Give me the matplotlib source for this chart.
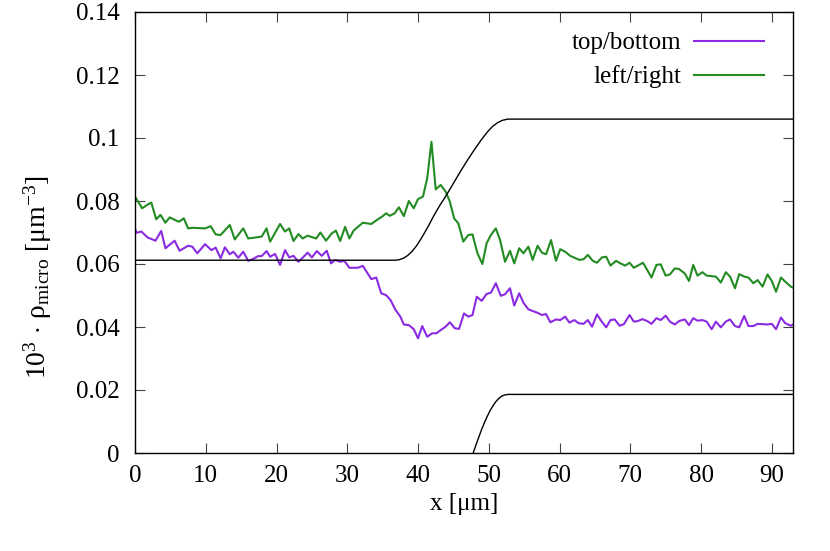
import matplotlib
matplotlib.use("Agg")
import matplotlib.pyplot as plt

plt.rcParams['font.family'] = ['Liberation Serif', 'DejaVu Serif']
plt.rcParams['mathtext.fontset'] = 'custom'
plt.rcParams['mathtext.rm'] = 'Liberation Serif'
plt.rcParams['mathtext.it'] = 'Liberation Serif:italic'

# top/bottom series
tb_x = [0, 0.2, 0.9, 1.8, 2.9, 3.7, 4.3, 5.6, 6.3, 7.5, 8.1, 8.8, 9.9, 10.8, 11.4, 12.1,
        12.7, 13.4, 13.9, 14.6, 15.3, 16.0, 16.7, 17.4, 17.9, 18.6, 19.1, 19.8, 20.5, 21.2,
        21.8, 22.4, 23.1, 23.7, 24.4, 25.0, 25.7, 26.4, 27.1, 27.7, 28.3, 29.0, 29.6, 30.3,
        31.5, 32.2, 33.4, 34.1, 34.8, 35.5, 36.1, 36.8, 37.5, 38.0, 38.7, 39.4, 40.0, 40.6,
        41.3, 42.0, 42.6, 43.2, 43.9, 44.5, 45.2, 45.8, 46.5, 47.1, 47.7, 48.3, 49.0, 49.7,
        50.3, 51.0, 51.7, 52.3, 53.0, 53.6, 54.3, 54.9, 55.6, 56.2, 56.9, 57.5, 58.1, 58.7,
        59.5, 60.1, 60.8, 61.4, 62.1, 62.7, 63.4, 64.0, 64.6, 65.3, 65.9, 66.6, 67.2, 67.8,
        68.5, 69.1, 69.9, 70.5, 71.1, 71.7, 72.4, 73.0, 73.7, 74.3, 75.0, 75.6, 76.3, 76.9,
        77.7, 78.3, 78.9, 79.5, 80.2, 80.8, 81.5, 82.1, 82.8, 83.5, 84.1, 84.8, 85.4, 86.1,
        86.7, 87.4, 88.0, 88.7, 89.4, 90.0, 90.6, 91.3, 91.9, 92.7, 93.0]
tb_y = [0.0713, 0.0699, 0.0703, 0.0684, 0.0674, 0.0705, 0.0650, 0.0674, 0.0642, 0.0658,
        0.0655, 0.0634, 0.0663, 0.0644, 0.0652, 0.0618, 0.0653, 0.0631, 0.0639, 0.0620,
        0.0639, 0.0610, 0.0616, 0.0625, 0.0625, 0.0641, 0.0623, 0.0632, 0.0597, 0.0644,
        0.0621, 0.0626, 0.0607, 0.0620, 0.0636, 0.0621, 0.0641, 0.0626, 0.0642, 0.0602,
        0.0613, 0.0607, 0.0610, 0.0588, 0.0588, 0.0594, 0.0552, 0.0557, 0.0507, 0.0501,
        0.0486, 0.0455, 0.0433, 0.0408, 0.0406, 0.0393, 0.0364, 0.0403, 0.0369, 0.0380,
        0.0380, 0.0390, 0.0401, 0.0415, 0.0396, 0.0394, 0.0443, 0.0433, 0.0438, 0.0496,
        0.0483, 0.0505, 0.0509, 0.0539, 0.0499, 0.0504, 0.0523, 0.0468, 0.0507, 0.0477,
        0.0456, 0.0451, 0.0445, 0.0438, 0.0441, 0.0415, 0.0424, 0.0422, 0.0433, 0.0414,
        0.0422, 0.0412, 0.0410, 0.0422, 0.0401, 0.0440, 0.0419, 0.0399, 0.0422, 0.0424,
        0.0404, 0.0409, 0.0438, 0.0417, 0.0419, 0.0425, 0.0419, 0.0410, 0.0428, 0.0422,
        0.0436, 0.0417, 0.0408, 0.0419, 0.0424, 0.0406, 0.0428, 0.0420, 0.0422, 0.0417,
        0.0393, 0.0417, 0.0399, 0.0417, 0.0424, 0.0403, 0.0399, 0.0435, 0.0403, 0.0403,
        0.0410, 0.0409, 0.0408, 0.0410, 0.0393, 0.0430, 0.0412, 0.0404, 0.0408]

# left/right series
lr_x = [0, 1.0, 2.1, 2.3, 3.0, 3.6, 4.3, 4.9, 6.2, 6.9, 7.5, 8.1, 9.9, 10.7, 11.4, 12.1,
        13.4, 14.1, 15.3, 16.0, 17.9, 18.6, 19.1, 20.5, 21.2, 21.8, 22.4, 23.1, 23.7, 24.4,
        25.6, 26.2, 27.0, 27.8, 28.4, 29.0, 29.7, 30.3, 30.9, 31.4, 32.2, 33.4, 34.2, 34.9,
        35.5, 36.0, 36.7, 37.3, 38.0, 38.7, 39.4, 40.0, 40.7, 41.3, 41.9, 42.5, 43.2, 43.9,
        44.5, 45.1, 45.7, 46.4, 47.1, 47.7, 48.4, 49.1, 49.7, 50.3, 51.0, 51.6, 52.3, 53.0,
        53.6, 54.3, 54.9, 55.6, 56.2, 56.9, 57.5, 58.1, 58.8, 59.5, 60.1, 60.8, 61.5, 62.8,
        63.4, 64.0, 64.7, 65.3, 66.0, 66.6, 67.2, 68.0, 68.6, 69.3, 69.9, 70.5, 71.8, 72.4,
        73.0, 73.7, 74.3, 75.0, 75.6, 76.3, 76.9, 77.7, 78.3, 78.9, 79.5, 80.2, 80.8, 82.1,
        82.8, 83.5, 84.1, 84.8, 85.4, 86.1, 86.7, 87.4, 88.0, 88.7, 89.4, 90.0, 90.6, 91.3,
        91.9, 92.7, 93.0]
lr_y = [0.0814, 0.0777, 0.0793, 0.0795, 0.0742, 0.0756, 0.0731, 0.0748, 0.0734, 0.0745,
        0.0713, 0.0715, 0.0713, 0.0720, 0.0694, 0.0692, 0.0724, 0.0678, 0.0713, 0.0681,
        0.0687, 0.0713, 0.0671, 0.0727, 0.0703, 0.0713, 0.0673, 0.0695, 0.0681, 0.0690,
        0.0681, 0.0700, 0.0674, 0.0697, 0.0706, 0.0673, 0.0718, 0.0681, 0.0706, 0.0716,
        0.0731, 0.0727, 0.0740, 0.0750, 0.0761, 0.0753, 0.0761, 0.0780, 0.0752, 0.0800,
        0.0777, 0.0806, 0.0814, 0.0872, 0.0988, 0.0837, 0.0851, 0.0830, 0.0798, 0.0745,
        0.0729, 0.0671, 0.0692, 0.0694, 0.0634, 0.0600, 0.0666, 0.0692, 0.0713, 0.0676,
        0.0607, 0.0642, 0.0602, 0.0650, 0.0634, 0.0655, 0.0613, 0.0658, 0.0636, 0.0631,
        0.0676, 0.0610, 0.0647, 0.0639, 0.0626, 0.0613, 0.0615, 0.0629, 0.0610, 0.0604,
        0.0621, 0.0623, 0.0595, 0.0610, 0.0602, 0.0595, 0.0604, 0.0588, 0.0604, 0.0581,
        0.0557, 0.0597, 0.0599, 0.0563, 0.0567, 0.0586, 0.0584, 0.0570, 0.0546, 0.0597,
        0.0563, 0.0574, 0.0563, 0.0560, 0.0541, 0.0574, 0.0560, 0.0523, 0.0568, 0.0560,
        0.0557, 0.0539, 0.0549, 0.0528, 0.0567, 0.0546, 0.0512, 0.0557, 0.0544, 0.0528,
        0.0525]

# black outline curves
wall_up_x = [0, 36.8, 37.4, 38.0, 38.6, 39.2, 39.8, 40.4, 41.0, 41.6, 42.2, 43.0, 44.0,
             45.0, 46.0, 47.0, 48.0, 49.0, 49.8, 50.5, 51.2, 51.9, 52.7, 93]
wall_up_y = [0.0612, 0.0612, 0.0614, 0.0619, 0.0628, 0.0641, 0.0658, 0.0679, 0.0702,
             0.0726, 0.0752, 0.0783, 0.0818, 0.0856, 0.0894, 0.0930, 0.0964, 0.0996,
             0.1019, 0.1036, 0.1048, 0.1056, 0.1060, 0.1060]
wall_lo_x = [47.3, 47.8, 48.2, 48.6, 49.0, 49.4, 49.8, 50.2, 50.6, 51.0, 51.4, 51.8,
             52.2, 52.7, 93]
wall_lo_y = [-0.0032, 0.0, 0.0026, 0.0051, 0.0075, 0.0097, 0.0117, 0.0135, 0.0150,
             0.0163, 0.0173, 0.0180, 0.0184, 0.0186, 0.0186]

xticks = [0, 10, 20, 30, 40, 50, 60, 70, 80, 90]
yticks = [0, 0.02, 0.04, 0.06, 0.08, 0.1, 0.12, 0.14]
ylabels = ["0", "0.02", "0.04", "0.06", "0.08", "0.1", "0.12", "0.14"]

fig = plt.figure(figsize=(8.3, 5.51), dpi=100)
ax = fig.add_axes([135/830, 1-453/551, 658/830, 441/551])

ax.plot(tb_x, tb_y, color="#8a2be2", lw=1.5, label="top/bottom")
ax.plot(lr_x, lr_y, color="#228b22", lw=1.5, label="left/right")
ax.plot(wall_up_x, wall_up_y, color="black", lw=1.0)
ax.plot(wall_lo_x, wall_lo_y, color="black", lw=1.0)

ax.set_xlim(0, 93)
ax.set_ylim(0, 0.14)
ax.set_xticks(xticks)
ax.set_yticks(yticks)
ax.set_yticklabels(ylabels)
ax.tick_params(direction="in", length=7, width=0.8, top=True, right=True,
               labelsize=18, color="#444444")
ax.tick_params(axis="y", pad=11)
ax.tick_params(axis="x", pad=9)
for s in ax.spines.values():
    s.set_linewidth(1.0)

ax.set_xlabel("x [μm]", fontsize=18, labelpad=4)
ax.set_ylabel(r"$10^3\,\cdot\,\mathrm{ρ}_{\mathrm{micro}}$ [μm$^{-3}$]", fontsize=20)
ax.yaxis.set_label_coords(-0.123, 0.40)

ax.legend(loc="upper right", bbox_to_anchor=(0.956, 0.955), frameon=False,
          markerfirst=False, fontsize=18, handlelength=2.8, handletextpad=0.5,
          labelspacing=0.44, borderpad=0, borderaxespad=0)

fig.savefig("out.png", dpi=100)
